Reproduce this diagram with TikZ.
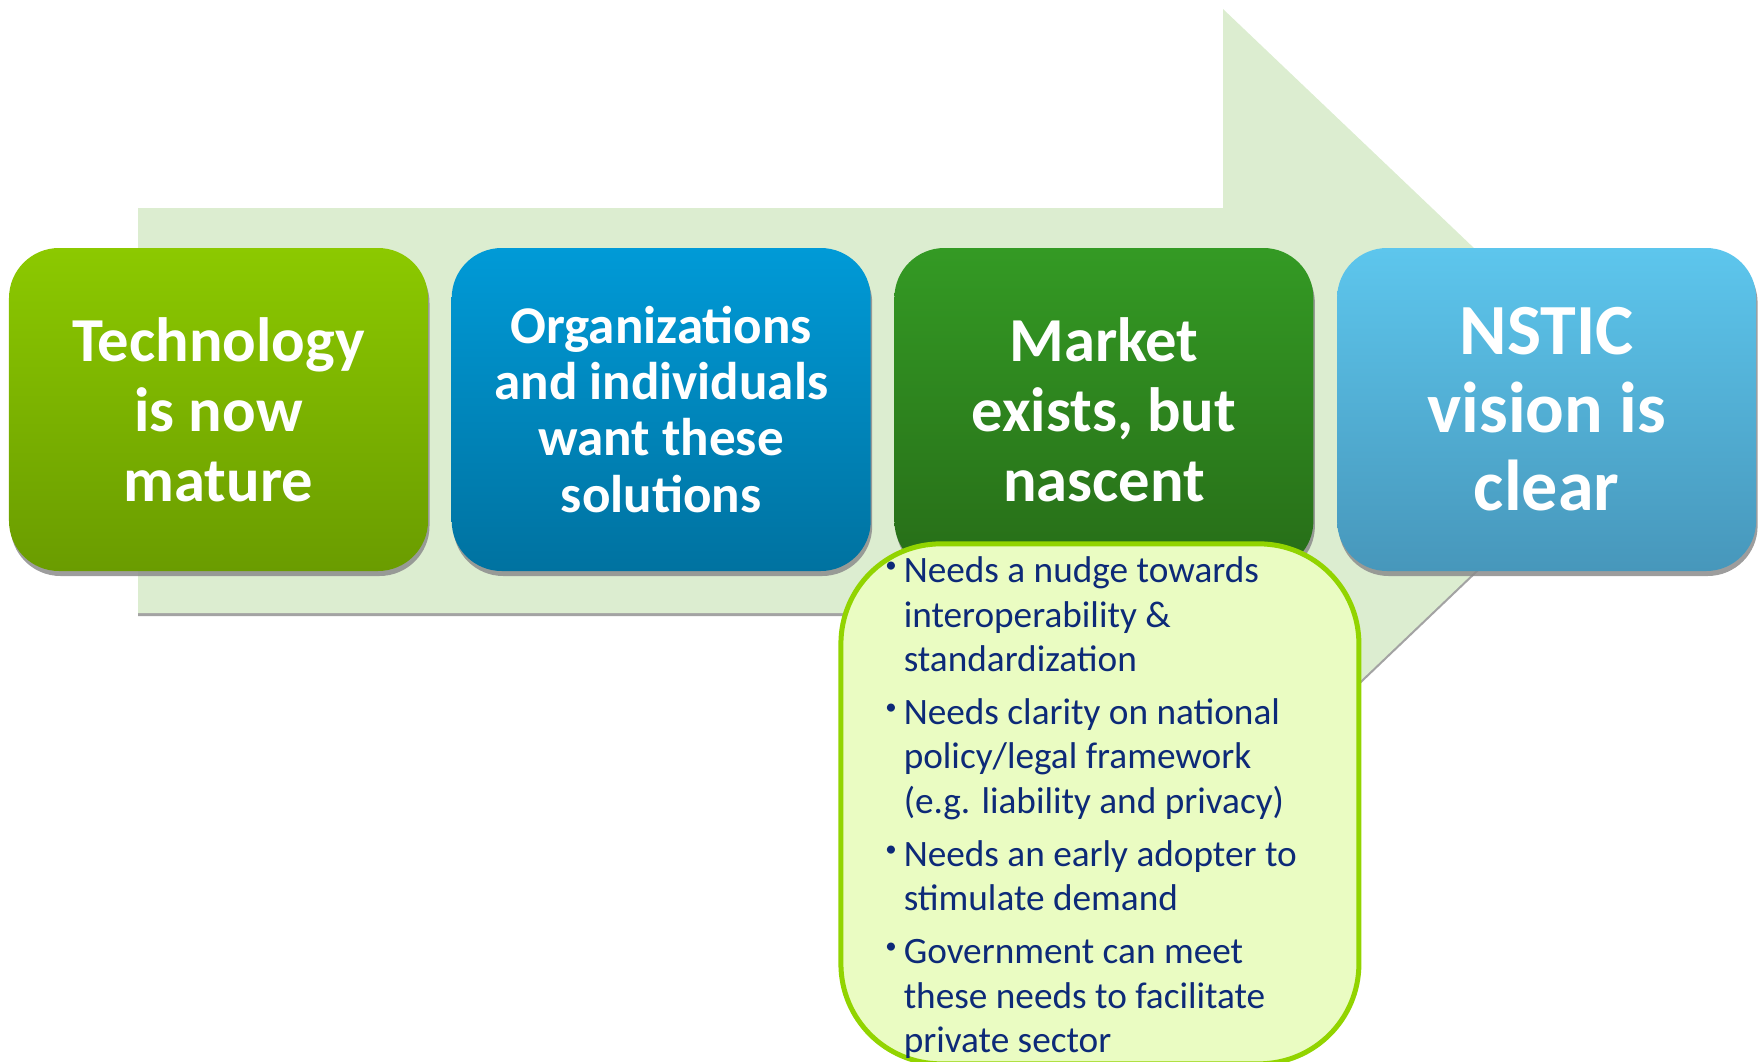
\documentclass[tikz,border=0pt]{standalone}
\usepackage{fontspec}
\setmainfont{Carlito}
\usetikzlibrary{positioning,shadows}
\definecolor{flecha}{HTML}{DCEDD0}
\definecolor{verdeA}{HTML}{8CC900}
\definecolor{verdeB}{HTML}{6A9C00}
\definecolor{azulA}{HTML}{009AD7}
\definecolor{azulB}{HTML}{0072A0}
\definecolor{bosqueA}{HTML}{349A24}
\definecolor{bosqueB}{HTML}{276D18}
\definecolor{cieloA}{HTML}{5DC6ED}
\definecolor{cieloB}{HTML}{4797BB}
\definecolor{notafondo}{HTML}{EAFCC2}
\definecolor{notaborde}{HTML}{92D400}
\definecolor{marino}{HTML}{0D2A78}
\newcommand{\pto}{\llap{\raisebox{0.2cm}{\fontsize{13}{13}\selectfont •}\hspace{0.14cm}}}

\begin{document}
\begin{tikzpicture}[
      caja/.style={rounded corners=1cm, minimum width=8.38cm, minimum height=6.46cm,
                   inner sep=0pt, align=center, text=white,
                   font=\fontsize{35.6}{39.8}\selectfont\bfseries,
                   drop shadow={shadow xshift=0.03cm, shadow yshift=-0.1cm,
                                fill=black!45, opacity=0.85}},
      c1/.style={caja, top color=verdeA, bottom color=verdeB},
      c2/.style={caja, top color=azulA, bottom color=azulB,
                 font=\fontsize{30.2}{31.9}\selectfont\bfseries},
      c3/.style={caja, top color=bosqueA, bottom color=bosqueB},
      c4/.style={caja, top color=cieloA, bottom color=cieloB,
                 font=\fontsize{41}{44.4}\selectfont\bfseries},
      nota/.style={draw=notaborde, fill=notafondo, line width=0.1cm, rounded corners=2cm,
                   minimum width=10.36cm, minimum height=10.4cm},
      txt/.style={text=marino, align=left, inner sep=0pt,
                  font=\fontsize{21.2}{25.3}\selectfont},
    ]
    \useasboundingbox (0,0) rectangle (35.26,-21.24);

    % =============== FLECHA DE FONDO ======================================
    \path[fill=flecha, drop shadow={shadow xshift=0cm, shadow yshift=-0.06cm,
                                    fill=black!40, opacity=0.9}]
      (2.76,-4.16) -- (24.46,-4.16) -- (24.46,-0.18) -- (32.88,-8.2)
      -- (24.46,-16.24) -- (24.46,-12.26) -- (2.76,-12.26) -- cycle;

    % =============== CAJAS ================================================
    \node[c1] (tech) at (4.37,-8.19) {Technology\\is now\\mature};
    \node[c2, right=0.46cm of tech] (orgs) {Organizations\\and individuals\\want these\\solutions};
    \node[c3, right=0.46cm of orgs] (market) {Market\\exists, but\\nascent};
    \node[c4, right=0.46cm of market] (vision) {NSTIC\\vision is\\clear};

    % =============== NOTA =================================================
    \node[nota, below=-0.6cm of market, xshift=-0.08cm] (needs) {};
    \node[txt, anchor=north west] (lista) at ([xshift=1.3cm,yshift=-0.3cm]needs.north west)
      {\pto Needs a nudge towards\\
       interoperability \&\\
       standardization\\[4.8pt]
       \pto Needs clarity on national\\
       policy/legal framework\\
       (e.g. liability and privacy)\\[4.8pt]
       \pto Needs an early adopter to\\
       stimulate demand\\[4.8pt]
       \pto Government can meet\\
       these needs to facilitate\\
       private sector};
  \end{tikzpicture}
\end{document}
